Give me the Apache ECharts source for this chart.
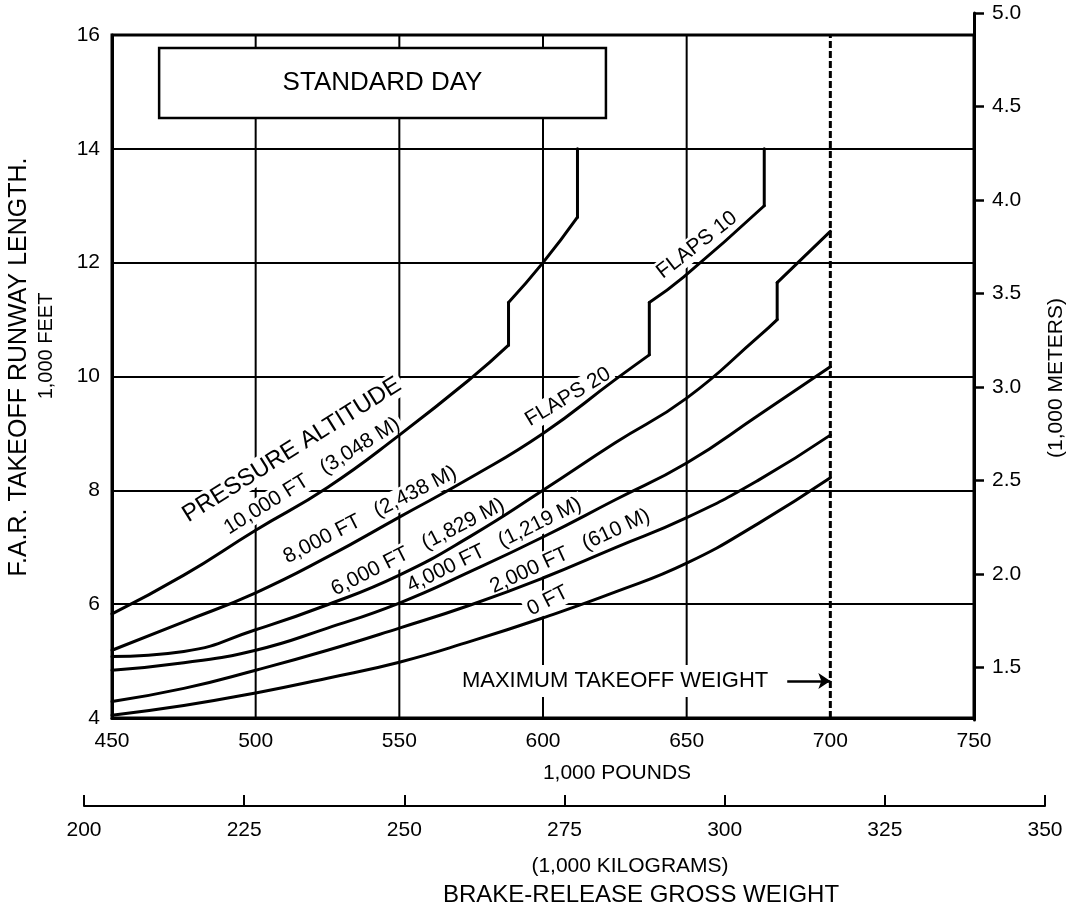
<!DOCTYPE html>
<html>
<head>
<meta charset="utf-8">
<script src="https://cdn.jsdelivr.net/npm/echarts@6/dist/echarts.min.js"></script>
<style>
  html, body { margin: 0; padding: 0; background: #fff; }
  #chart { width: 1068px; height: 909px; }
</style>
</head>
<body>
<div id="chart"></div>
<script>
// ---------------- DATA ----------------
// Brake-release gross weight (1,000 lb) vs F.A.R. takeoff runway length (1,000 ft)
const alt0ft = [[450,4.05],[475,4.22],[500,4.44],[525,4.70],[550,4.98],[575,5.35],[600,5.76],[625,6.21],[650,6.72],[675,7.42],[700,8.22]];
const alt2000ft = [[450,4.29],[475,4.52],[500,4.84],[525,5.19],[550,5.58],[575,5.99],[600,6.46],[625,6.99],[650,7.52],[675,8.18],[700,8.97]];
const alt4000ft = [[450,4.84],[475,4.97],[500,5.19],[525,5.58],[550,6.02],[575,6.58],[600,7.18],[625,7.83],[650,8.48],[675,9.32],[700,10.17]];
const alt6000ft = [[450,5.08],[475,5.17],[500,5.55],[525,5.99],[550,6.51],[575,7.20],[600,8.00],[625,8.83],[650,9.62],[675,10.70],[681.5,11.00],[681.5,11.65],[700,12.55]];
const alt8000ft = [[450,5.19],[475,5.69],[500,6.20],[525,6.83],[550,7.53],[575,8.23],[600,9.00],[625,9.94],[637,10.38],[637,11.30],[649,11.75],[677,13.00],[677,14.00]];
const alt10000ft = [[450,5.83],[475,6.51],[500,7.30],[525,8.05],[550,8.97],[575,9.97],[588,10.55],[588,11.30],[600,12.00],[612,12.80],[612,14.00]];

const weightLbRange = [450, 750];      // 1,000 lb
const weightLbStep = 50;
const runwayFtRange = [4, 16];         // 1,000 ft
const runwayFtStep = 2;
const weightKgRange = [200, 350];      // 1,000 kg
const weightKgStep = 25;
const meterTicks = [1.5, 2.0, 2.5, 3.0, 3.5, 4.0, 4.5, 5.0]; // 1,000 m
const FT_TO_M = 0.3048;
const gridWeightsLb = [500, 550, 600, 650];
const maxTakeoffWeightLb = 700;

// annotation text (anchored in data coordinates)
const curveLabels = [
  { text: 'PRESSURE ALTITUDE',      at: [512.6, 8.71], angle: 32, size: 24 },
  { text: '10,000 FT   (3,048 M)',  at: [519.6, 8.25], angle: 32, size: 21 },
  { text: '8,000 FT   (2,438 M)',   at: [539.8, 7.57], angle: 27, size: 21 },
  { text: '6,000 FT   (1,829 M)',   at: [556.5, 7.00], angle: 27, size: 21 },
  { text: '4,000 FT   (1,219 M)',   at: [583.0, 7.04], angle: 26, size: 21 },
  { text: '2,000 FT   (610 M)',     at: [609.4, 6.93], angle: 25, size: 21 },
  { text: '0 FT',                   at: [601.7, 6.06], angle: 27, size: 21 },
  { text: 'FLAPS 20',               at: [608.7, 9.64], angle: 31, size: 21 },
  { text: 'FLAPS 10',               at: [653.6, 12.31], angle: 38, size: 21 }
];
const maxWeightNote = { text: 'MAXIMUM TAKEOFF WEIGHT', at: [625.1, 4.65], arrowFrom: [685, 4.65], arrowTo: [700, 4.65] };
const standardDayBox = { text: 'STANDARD DAY', from: [466.4, 15.77], to: [621.9, 14.54] };

// ---------------- CHART ----------------
const FONT = "'Liberation Sans', Arial, Helvetica, sans-serif";
const BLACK = '#000';

function splitRuns(points) {
  // split a curve at vertical jumps: smooth runs + straight vertical segments
  const runs = [];
  let cur = [points[0]];
  for (let i = 1; i < points.length; i++) {
    const p = points[i], q = points[i - 1];
    if (p[0] === q[0]) {
      if (cur.length > 1) runs.push({ pts: cur, smooth: true });
      runs.push({ pts: [q, p], smooth: false });
      cur = [p];
    } else {
      cur.push(p);
    }
  }
  if (cur.length > 1) runs.push({ pts: cur, smooth: true });
  return runs;
}

const curves = [alt0ft, alt2000ft, alt4000ft, alt6000ft, alt8000ft, alt10000ft];
const series = [];

gridWeightsLb.forEach(w => {
  series.push({
    type: 'line', xAxisIndex: 0, yAxisIndex: 0, silent: true, z: 0.5,
    symbol: 'none', data: [[w, runwayFtRange[0]], [w, runwayFtRange[1]]],
    lineStyle: { color: BLACK, width: 2 }
  });
});
series.push({
  type: 'line', xAxisIndex: 0, yAxisIndex: 0, silent: true, z: 0.5,
  symbol: 'none', data: [[maxTakeoffWeightLb, runwayFtRange[0]], [maxTakeoffWeightLb, runwayFtRange[1]]],
  lineStyle: { color: BLACK, width: 3, type: [7, 3] }
});

curves.forEach(c => {
  splitRuns(c).forEach(r => {
    series.push({
      type: 'line', xAxisIndex: 0, yAxisIndex: 0, silent: true, z: 3,
      symbol: 'none', smooth: r.smooth ? 0.5 : false,
      data: r.pts, lineStyle: { color: BLACK, width: 3, cap: 'round', join: 'round' }
    });
  });
});

series.push({
  type: 'lines', coordinateSystem: 'cartesian2d', xAxisIndex: 0, yAxisIndex: 0, z: 3, silent: true,
  data: [{ coords: [maxWeightNote.arrowFrom, maxWeightNote.arrowTo] }],
  symbol: ['none', 'arrow'], symbolSize: 12,
  lineStyle: { color: BLACK, width: 2.5, opacity: 1, curveness: 0 }
});

const tickLabel = { color: BLACK, fontSize: 21, fontFamily: FONT };

const option = {
  animation: false,
  backgroundColor: '#fff',
  grid: [
    { left: 112, right: 94, top: 35, bottom: 191, show: true, borderColor: BLACK, borderWidth: 3, backgroundColor: 'transparent' },
    { left: 112, right: 94, top: 13, bottom: 189 },
    { left: 84, right: 23, top: 780, bottom: 103 }
  ],
  xAxis: [
    { gridIndex: 0, type: 'value', min: weightLbRange[0], max: weightLbRange[1], interval: weightLbStep,
      axisLine: { show: true, onZero: false, lineStyle: { color: BLACK, width: 3 } },
      axisTick: { show: false }, splitLine: { show: false },
      axisLabel: Object.assign({ margin: 13, showMinLabel: true, showMaxLabel: true }, tickLabel) },
    { gridIndex: 1, type: 'value', min: 0, max: 1, show: false },
    { gridIndex: 2, type: 'value', min: weightKgRange[0], max: weightKgRange[1], interval: weightKgStep,
      axisLine: { show: true, onZero: false, lineStyle: { color: BLACK, width: 2 } },
      axisTick: { show: true, inside: true, length: 11, lineStyle: { color: BLACK, width: 2 } },
      splitLine: { show: false },
      axisLabel: Object.assign({ margin: 14, showMinLabel: true, showMaxLabel: true }, tickLabel) }
  ],
  yAxis: [
    { gridIndex: 0, type: 'value', min: runwayFtRange[0], max: runwayFtRange[1], interval: runwayFtStep,
      axisLine: { show: true, onZero: false, lineStyle: { color: BLACK, width: 3 } },
      axisTick: { show: false },
      splitLine: { show: true, lineStyle: { color: BLACK, width: 2 } },
      axisLabel: Object.assign({ margin: 12, showMinLabel: true, showMaxLabel: true }, tickLabel) },
    { gridIndex: 1, type: 'value', position: 'right',
      min: runwayFtRange[0] * FT_TO_M, max: meterTicks[meterTicks.length - 1],
      axisLine: { show: true, onZero: false, lineStyle: { color: BLACK, width: 3 } },
      axisTick: { show: true, inside: false, length: 10, customValues: meterTicks, lineStyle: { color: BLACK, width: 2.5 } },
      splitLine: { show: false },
      axisLabel: Object.assign({ margin: 18, customValues: meterTicks, formatter: v => Number(v).toFixed(1) }, tickLabel) },
    { gridIndex: 2, type: 'value', show: false, min: 0, max: 1 }
  ],
  series: series
};

const chart = echarts.init(document.getElementById('chart'), null, { renderer: 'canvas' });
chart.setOption(option);

// ---------------- ANNOTATIONS ----------------
const toPx = p => chart.convertToPixel({ gridIndex: 0 }, p);
function txt(text, x, y, size, rotDeg, opts) {
  opts = opts || {};
  return {
    type: 'text', x: x, y: y, rotation: (rotDeg || 0) * Math.PI / 180, z: opts.z || 1, silent: true,
    style: {
      text: text, fill: BLACK,
      font: size + 'px ' + FONT,
      fontSize: size, fontFamily: FONT,
      align: 'center', verticalAlign: 'middle',
      textAlign: 'center', textVerticalAlign: 'middle',
      backgroundColor: opts.bg || null,
      padding: opts.padding || 0
    }
  };
}

const graphics = [];
curveLabels.forEach(l => {
  const p = toPx(l.at);
  graphics.push(txt(l.text, p[0], p[1], l.size, l.angle, { bg: '#fff', padding: [1, 3] }));
});
{
  const p = toPx(maxWeightNote.at);
  graphics.push(txt(maxWeightNote.text, p[0], p[1], 22, 0, { bg: '#fff', padding: [5, 4] }));
}
{
  const a = toPx(standardDayBox.from), b = toPx(standardDayBox.to);
  graphics.push({
    type: 'rect', z: 1.2, silent: true,
    shape: { x: a[0], y: a[1], width: b[0] - a[0], height: b[1] - a[1] },
    style: { fill: '#fff', stroke: BLACK, lineWidth: 2.5 }
  });
  graphics.push(txt(standardDayBox.text, (a[0] + b[0]) / 2, (a[1] + b[1]) / 2, 26, 0, { z: 1.3 }));
}
// axis titles
graphics.push(txt('F.A.R. TAKEOFF RUNWAY LENGTH.', 19, 367, 25, 90));
graphics.push(txt('1,000 FEET', 46, 346, 20, 90));
graphics.push(txt('(1,000 METERS)', 1056, 378, 21, 90));
graphics.push(txt('1,000 POUNDS', 617, 773, 21, 0));
graphics.push(txt('(1,000 KILOGRAMS)', 630, 866, 21, 0));
graphics.push(txt('BRAKE-RELEASE GROSS WEIGHT', 641, 895, 24, 0));

chart.setOption({ graphic: graphics });
</script>
</body>
</html>
